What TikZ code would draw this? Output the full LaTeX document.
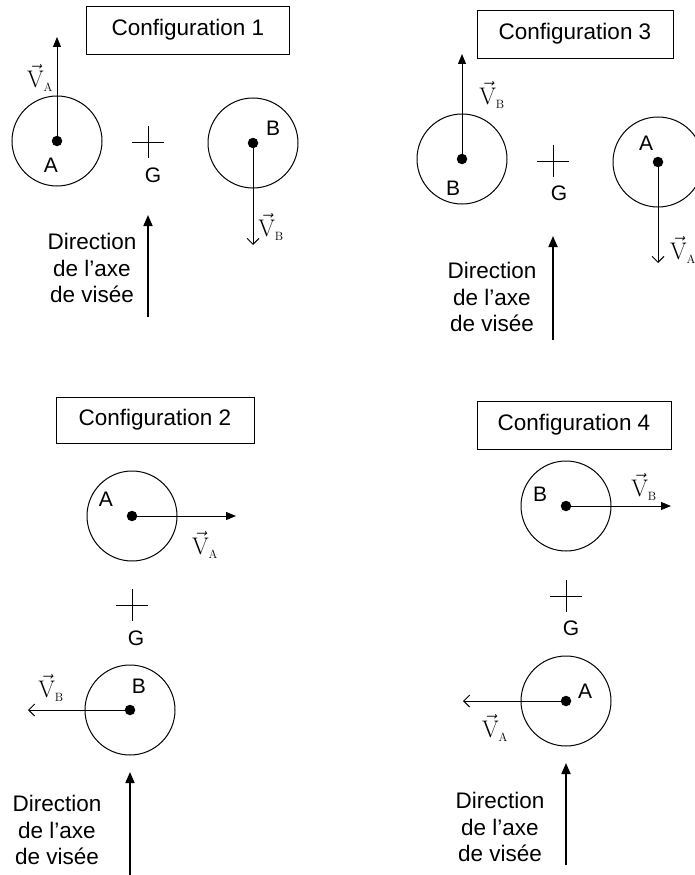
\RequirePackage{fix-cm}
\documentclass[tikz,border=0pt]{standalone}
\usepackage{fontspec}
\newfontfamily\arialf{Liberation Sans}
\usetikzlibrary{arrows.meta}
\tikzset{
  cfg/.style={draw,line width=0.9pt,minimum height=48pt,inner sep=0pt,font=\arialf\fontsize{22.5}{26}\selectfont},
  corps/.style={circle,draw,line width=1pt,minimum size=90pt,inner sep=0pt},
  pt/.style={circle,fill,inner sep=0pt,minimum size=10.5pt},
  lbl/.style={font=\arialf\fontsize{21}{25}\selectfont,inner sep=0pt},
  vlbl/.style={font=\fontsize{24}{28}\selectfont,inner sep=0pt},
  vplein/.style={-{Triangle[length=10pt,width=8pt]},line width=1pt},
  vouvert/.style={-{Straight Barb[length=6pt,width=12pt]},line width=1pt},
  visee/.style={-{Triangle[length=11pt,width=9pt]},line width=1.7pt},
  dirtxt/.style={align=center,font=\arialf\fontsize{22.5}{26.5}\selectfont,inner sep=0pt},
  croix/.style={line width=1pt},
}
\newcommand{\vitesse}[1]{$\vec{\mathrm{V}}_{\scriptscriptstyle\mathrm{#1}}$}

\begin{document}
\begin{tikzpicture}[x=1pt,y=-1pt]
\useasboundingbox (0,0) rectangle (695,875);
\clip (0,0) rectangle (695,875);
\node[cfg, minimum width=203pt] (c1) at (188,30) {Configuration 1};
\node[corps] (A1) at (57,141) {};
\node[pt] (pA1) at (57,141) {};
\node[lbl] (lA1) at (51,165) {A};
\coordinate (vA1) at (57,37);
\draw[vplein] (pA1) -- (vA1);
\node[vlbl] (tA1) at (40,78) {\vitesse{A}};
\coordinate (G1) at (148,142);
\draw[croix] (G1) +(-16,0) -- +(16,0) +(0,-16) -- +(0,16);
\node[lbl] (lG1) at (153,175) {G};
\node[corps] (B1) at (253,143) {};
\node[pt] (pB1) at (253,143) {};
\node[lbl] (lB1) at (273,128) {B};
\coordinate (vB1) at (253,245);
\draw[vouvert] (pB1) -- (vB1);
\node[vlbl] (tB1) at (271,227) {\vitesse{B}};
\coordinate (d1a) at (148,317);
\coordinate (d1b) at (148,215);
\draw[visee] (d1a) -- (d1b);
\node[dirtxt] (x1) at (92,268) {Direction\\de l’axe\\de visée};

\node[cfg, minimum width=196pt] (c3) at (575,34) {Configuration 3};
\node[corps] (B3) at (462,159) {};
\node[pt] (pB3) at (462,159) {};
\node[lbl] (lB3) at (453,188) {B};
\coordinate (vB3) at (462,54);
\draw[vplein] (pB3) -- (vB3);
\node[vlbl] (tB3) at (492,95) {\vitesse{B}};
\coordinate (G3) at (553,161);
\draw[croix] (G3) +(-16,0) -- +(16,0) +(0,-16) -- +(0,16);
\node[lbl] (lG3) at (559,193) {G};
\node[corps] (A3) at (658,162) {};
\node[pt] (pA3) at (658,162) {};
\node[lbl] (lA3) at (646,143) {A};
\coordinate (vA3) at (658,263);
\draw[vouvert] (pA3) -- (vA3);
\node[vlbl] (tA3) at (683,250) {\vitesse{A}};
\coordinate (d3a) at (553,340);
\coordinate (d3b) at (553,236);
\draw[visee] (d3a) -- (d3b);
\node[dirtxt] (x3) at (492,297) {Direction\\de l’axe\\de visée};

\node[cfg, minimum width=198pt, minimum height=46pt] (c2) at (155,420) {Configuration 2};
\node[corps] (A2) at (132,516) {};
\node[pt] (pA2) at (132,516) {};
\node[lbl] (lA2) at (106,499) {A};
\coordinate (vA2) at (236,516);
\draw[vplein] (pA2) -- (vA2);
\node[vlbl] (tA2) at (205,545) {\vitesse{A}};
\coordinate (G2) at (132,605);
\draw[croix] (G2) +(-16,0) -- +(16,0) +(0,-16) -- +(0,16);
\node[lbl] (lG2) at (136,638) {G};
\node[corps] (B2) at (130,710) {};
\node[pt] (pB2) at (130,710) {};
\node[lbl] (lB2) at (139,686) {B};
\coordinate (vB2) at (28,710);
\draw[vouvert] (pB2) -- (vB2);
\node[vlbl] (tB2) at (51,688) {\vitesse{B}};
\coordinate (d2a) at (130,878);
\coordinate (d2b) at (130,772);
\draw[visee] (d2a) -- (d2b);
\node[dirtxt] (x2) at (57,830) {Direction\\de l’axe\\de visée};

\node[cfg, minimum width=194pt] (c4) at (574,425) {Configuration 4};
\node[corps] (B4) at (566,506) {};
\node[pt] (pB4) at (566,506) {};
\node[lbl] (lB4) at (540,494) {B};
\coordinate (vB4) at (671,506);
\draw[vplein] (pB4) -- (vB4);
\node[vlbl] (tB4) at (644,487) {\vitesse{B}};
\coordinate (G4) at (566,596);
\draw[croix] (G4) +(-16,0) -- +(16,0) +(0,-16) -- +(0,16);
\node[lbl] (lG4) at (571,628) {G};
\node[corps] (A4) at (566,701) {};
\node[pt] (pA4) at (566,701) {};
\node[lbl] (lA4) at (585,691) {A};
\coordinate (vA4) at (463,701);
\draw[vouvert] (pA4) -- (vA4);
\node[vlbl] (tA4) at (495,728) {\vitesse{A}};
\coordinate (d4a) at (566,865);
\coordinate (d4b) at (566,763);
\draw[visee] (d4a) -- (d4b);
\node[dirtxt] (x4) at (500,827) {Direction\\de l’axe\\de visée};
\end{tikzpicture}
\end{document}
